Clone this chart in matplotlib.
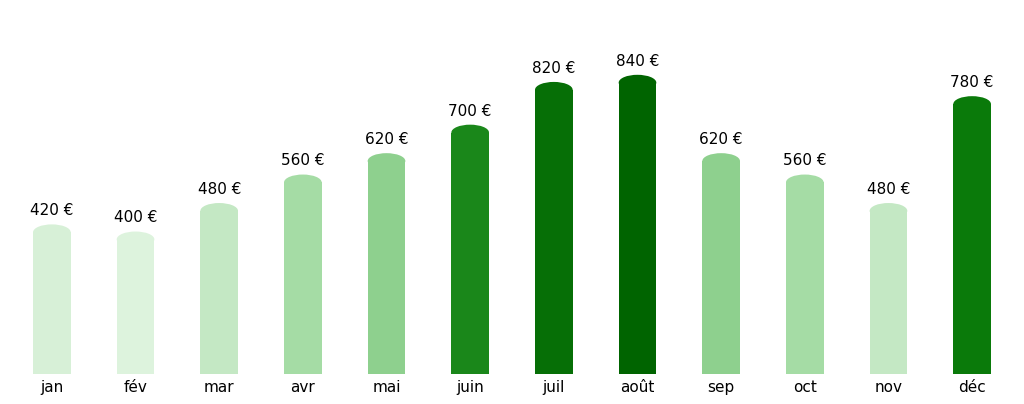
import matplotlib
matplotlib.use("Agg")
import matplotlib.pyplot as plt
from matplotlib.patches import Rectangle, Ellipse
from matplotlib.colors import LinearSegmentedColormap

months = ["jan","fév","mar","avr","mai","juin","juil","août","sep","oct","nov","déc"]
values = [420,400,480,560,620,700,820,840,620,560,480,780]

stops = [(400,'#ddf3dd'),(480,'#c4e8c4'),(560,'#a5dca5'),(620,'#8fd18f'),
         (700,'#1a871a'),(780,'#0a7a0a'),(820,'#067006'),(840,'#006400')]
vmin, vmax = 400, 840
cmap = LinearSegmentedColormap.from_list('g', [((v-vmin)/(vmax-vmin), c) for v, c in stops])

fig = plt.figure(figsize=(10.24, 4.04), dpi=100)
ax = fig.add_axes([0, 30/404, 1, 374/404])
w = 0.45
cap = 44
for i, v in enumerate(values):
    col = cmap((v-vmin)/(vmax-vmin))
    ax.add_patch(Rectangle((i-w/2, 0), w, v-cap/2, facecolor=col, edgecolor='none'))
    ax.add_patch(Ellipse((i, v-cap/2), w, cap, facecolor=col, edgecolor='none'))
    ax.text(i, v+38, f"{v} €", ha='center', va='center', fontsize=11)
ax.set_xlim(-0.62, 11.62)
ax.set_ylim(0, 1050)
ax.set_xticks(range(len(months)))
ax.set_xticklabels(months, fontsize=11)
ax.tick_params(axis='x', length=0, pad=4)
ax.set_yticks([])
for s in ax.spines.values():
    s.set_visible(False)
fig.savefig("out.png", dpi=100)
